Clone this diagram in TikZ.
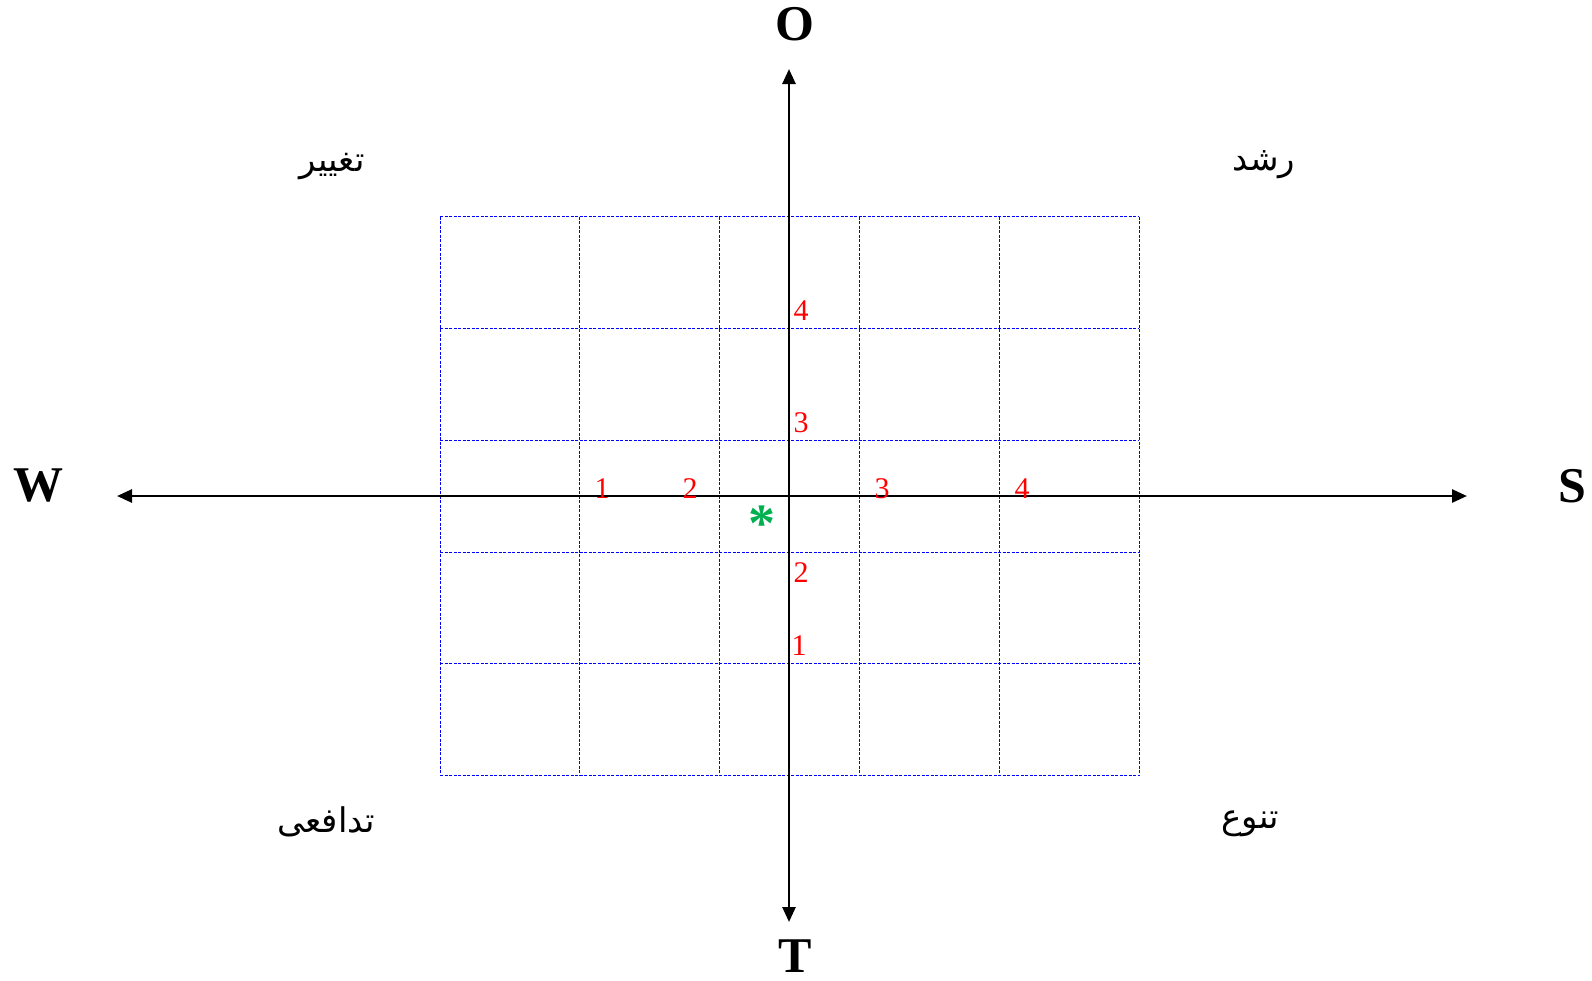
\documentclass[tikz,border=0pt]{standalone}
\usepackage{fontspec}
\setmainfont{Liberation Serif}
\newfontfamily\arabicfont[Script=Arabic]{DejaVu Sans}
\TeXXeTstate=1
\usetikzlibrary{arrows.meta}
\definecolor{stargreen}{HTML}{00B050}
\begin{document}
\begin{tikzpicture}[x=1pt,y=-1pt,
  gridline/.style={blue,line width=1pt,dash pattern=on 3pt off 1.5pt},
  axisline/.style={black,line width=2.6pt,{Triangle[length=15pt,width=13pt]}-{Triangle[length=15pt,width=13pt]}},
  dirlabel/.style={font=\fontsize{50}{50}\selectfont\bfseries,inner sep=0pt},
  numlabel/.style={red,font=\fontsize{30}{30}\selectfont,inner sep=0pt},
  quadlabel/.style={font=\arabicfont\fontsize{34}{34}\selectfont,inner sep=0pt}]
\useasboundingbox (0,0) rectangle (1592,980);
% grid
\foreach \i in {0,...,5}{
  \draw[gridline] ({440+139.86*\i},216.7) -- ({440+139.86*\i},775.7);
  \draw[gridline] (440,{216.7+111.8*\i}) -- (1139.3,{216.7+111.8*\i});
}
% axes
\coordinate (Wtip) at (117,496);
\coordinate (Stip) at (1467,496);
\coordinate (Otip) at (789,69);
\coordinate (Ttip) at (789,922);
\draw[axisline] (Wtip) -- (Stip);
\draw[axisline] (Ttip) -- (Otip);
% direction letters
\node[dirlabel] (W) at (38,486) {W};
\node[dirlabel] (S) at (1572,486) {S};
\node[dirlabel] (O) at (795,24) {O};
\node[dirlabel] (T) at (795,956) {T};
% numbers on horizontal axis
\node[numlabel] (h1) at (602,489) {1};
\node[numlabel] (h2) at (690,489) {2};
\node[numlabel] (h3) at (882,489) {3};
\node[numlabel] (h4) at (1022,489) {4};
% numbers on vertical axis
\node[numlabel] (v4) at (801,311) {4};
\node[numlabel] (v3) at (801,423) {3};
\node[numlabel] (v2) at (801,573) {2};
\node[numlabel] (v1) at (799,646) {1};
% star
\node[stargreen,font=\fontsize{54}{54}\selectfont\bfseries,inner sep=0pt] (star) at (762,524) {*};
% quadrant labels
\node[quadlabel] (q1) at (332,167) {\beginR تغییر\endR};
\node[quadlabel] (q2) at (1264,165) {\beginR رشد\endR};
\node[quadlabel] (q3) at (326,822) {\beginR تدافعی\endR};
\node[quadlabel] (q4) at (1250,824) {\beginR تنوع\endR};
\end{tikzpicture}
\end{document}
